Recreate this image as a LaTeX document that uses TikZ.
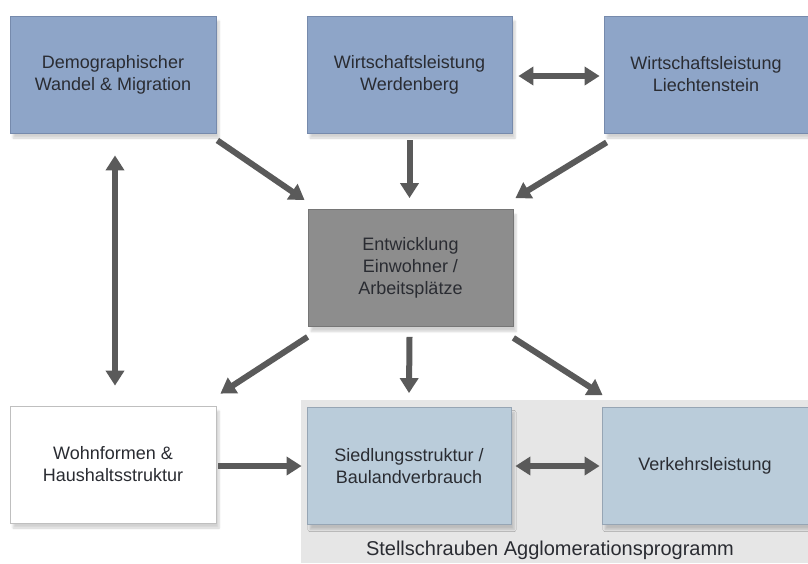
\documentclass[tikz,border=0pt]{standalone}
\usepackage{fontspec}
\setmainfont{Liberation Sans}
\usepackage{xcolor}
\usepackage{tikz}
\usetikzlibrary{arrows.meta, calc, shadows.blur}

\definecolor{topblue}{RGB}{142,165,200}
\definecolor{topblueline}{RGB}{118,138,172}
\definecolor{midgray}{RGB}{141,141,141}
\definecolor{midgrayline}{RGB}{118,118,118}
\definecolor{lightblue}{RGB}{186,204,218}
\definecolor{lightblueline}{RGB}{150,165,180}
\definecolor{panelgray}{RGB}{230,230,230}
\definecolor{arrowgray}{RGB}{90,90,90}
\definecolor{textdark}{RGB}{42,44,50}

\begin{document}
\begin{tikzpicture}[
    x=1pt, y=-1pt,
    box/.style={rectangle, draw, line width=0.8pt, minimum width=206pt, minimum height=117pt,
        font=\fontsize{18}{22}\selectfont, align=center, text=textdark,
        blur shadow={shadow xshift=3pt, shadow yshift=-5pt, shadow opacity=18, shadow blur steps=6}},
    arrow/.style={-{Triangle[width=18pt,length=15pt]}, line width=6pt, draw=arrowgray},
    darrow/.style={{Triangle[width=18pt,length=15pt]}-{Triangle[width=18pt,length=15pt]}, line width=6pt, draw=arrowgray}
]
    \useasboundingbox (0,0) rectangle (808,563);

    % Grey panel for the Agglomerationsprogramm
    \fill[panelgray] (301,400) rectangle (808,563);
    \node[font=\fontsize{20}{24}\selectfont, text=textdark] (panel) at (550,550) {Stellschrauben Agglomerationsprogramm};

    % Top row
    \node[box, fill=topblue, draw=topblueline] (demo) at (113,74.5) {Demographischer\\Wandel \& Migration};
    \node[box, fill=topblue, draw=topblueline, minimum width=205pt] (werd) at (409.5,74.5) {Wirtschaftsleistung\\Werdenberg};
    \node[box, fill=topblue, draw=topblueline, minimum width=204pt] (liech) at (706,74.5) {Wirtschaftsleistung\\Liechtenstein};

    % Middle
    \node[box, fill=midgray, draw=midgrayline, minimum width=205pt] (mid) at (410.5,268) {Entwicklung\\Einwohner /\\Arbeitsplätze};

    % Bottom row
    \node[box, fill=white, draw=black!25] (wohn) at (113,464.5) {Wohnformen \&\\Haushaltsstruktur};
    \node[box, fill=lightblue, draw=lightblueline, minimum width=204pt] (sied) at (409,466) {Siedlungsstruktur /\\Baulandverbrauch};
    \node[box, fill=lightblue, draw=lightblueline] (verk) at (705,466) {Verkehrsleistung};

    % Arrows into the middle box
    \draw[arrow] ($(demo.south east)+(1,7)$) -- ($(mid.north west)+(-3,-9)$);
    \draw[arrow] ($(werd.south)+(0,7)$) -- ($(mid.north)+(-1,-11)$);
    \draw[arrow] ($(liech.south west)+(3,9)$) -- ($(mid.north east)+(2,-11)$);
    \draw[darrow] ($(werd.east)+(6,1.5)$) -- ($(liech.west)+(-4,1.5)$);

    % Left side
    \draw[darrow] ($(demo.south)+(2,22)$) -- ($(wohn.north)+(2,-20)$);

    % Arrows out of the middle box
    \draw[arrow] ($(mid.south west)+(0,10)$) -- ($(wohn.north east)+(4,-12)$);
    \draw[arrow] ($(mid.south)+(-1,10)$) -- ($(sied.north)+(0,-14)$);
    \draw[arrow] ($(mid.south east)+(0,11)$) -- ($(verk.north west)+(1,-12)$);

    % Bottom row links
    \draw[arrow] ($(wohn.east)+(2,1.5)$) -- ($(sied.west)+(-5,0)$);
    \draw[darrow] ($(sied.east)+(4,0)$) -- ($(verk.west)+(-2,0)$);
\end{tikzpicture}
\end{document}
